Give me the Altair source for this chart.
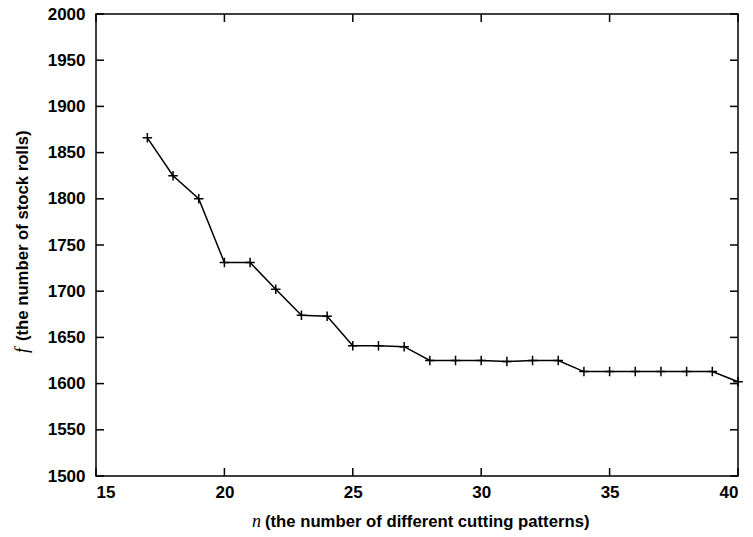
import altair as alt
import pandas as pd

# ---- data ----
n_patterns = [17, 18, 19, 20, 21, 22, 23, 24, 25, 26, 27, 28,
              29, 30, 31, 32, 33, 34, 35, 36, 37, 38, 39, 40]
stock_rolls = [1866, 1825, 1800, 1731, 1731, 1702, 1674, 1673, 1641, 1641, 1640, 1625,
               1625, 1625, 1624, 1625, 1625, 1613, 1613, 1613, 1613, 1613, 1613, 1602]
x_ticks = [15, 20, 25, 30, 35, 40]
y_ticks = [1500, 1550, 1600, 1650, 1700, 1750, 1800, 1850, 1900, 1950, 2000]
x_title_var = ["n"]
x_title_rest = ["(the number of different cutting patterns)"]
y_title_var = ["f"]
y_title_rest = ["(the number of stock rolls)"]

W, H = 642, 462
FONT = "Liberation Sans"

df = pd.DataFrame({"n": n_patterns, "f": stock_rolls})
xt = pd.DataFrame({"v": x_ticks})
yt = pd.DataFrame({"v": y_ticks})

xs = alt.Scale(domain=[15, 40], nice=False, zero=False)
ys = alt.Scale(domain=[1500, 2000], nice=False, zero=False)

x_axis = alt.Axis(values=x_ticks, title=None, tickSize=0, domain=False, grid=False,
                  format="d", labelFont=FONT, labelFontSize=17, labelFontWeight="bold",
                  labelColor="black", labelPadding=8)
y_axis = alt.Axis(values=y_ticks, title=None, tickSize=0, domain=False, grid=False,
                  format="d", labelFont=FONT, labelFontSize=17, labelFontWeight="bold",
                  labelColor="black", labelPadding=11)

line = alt.Chart(df).mark_line(color="black", strokeWidth=1.5).encode(
    x=alt.X("n:Q", scale=xs, axis=x_axis),
    y=alt.Y("f:Q", scale=ys, axis=y_axis),
)
points = alt.Chart(df).mark_point(
    shape="M-1,0L1,0M0,-1L0,1", size=90, filled=False, color="black",
    strokeWidth=1.5, opacity=1
).encode(
    x=alt.X("n:Q", scale=xs, axis=x_axis),
    y=alt.Y("f:Q", scale=ys, axis=y_axis),
)

TL = 8
left_ticks = alt.Chart(yt).mark_rule(color="black", strokeWidth=1.5).encode(
    y=alt.Y("v:Q", scale=ys, axis=y_axis), x=alt.value(0), x2=alt.value(TL))
right_ticks = alt.Chart(yt).mark_rule(color="black", strokeWidth=1.5).encode(
    y=alt.Y("v:Q", scale=ys, axis=y_axis), x=alt.value(W - TL), x2=alt.value(W))
bottom_ticks = alt.Chart(xt).mark_rule(color="black", strokeWidth=1.5).encode(
    x=alt.X("v:Q", scale=xs, axis=x_axis), y=alt.value(H), y2=alt.value(H - TL))
top_ticks = alt.Chart(xt).mark_rule(color="black", strokeWidth=1.5).encode(
    x=alt.X("v:Q", scale=xs, axis=x_axis), y=alt.value(0), y2=alt.value(TL))

xv = alt.Chart(pd.DataFrame({"t": x_title_var})).mark_text(
    font="Liberation Serif", fontStyle="italic", fontSize=18, align="left",
    baseline="alphabetic", color="black"
).encode(x=alt.value(156), y=alt.value(513), text="t:N")
xr = alt.Chart(pd.DataFrame({"t": x_title_rest})).mark_text(
    font=FONT, fontWeight="bold", fontSize=16.7, align="left",
    baseline="alphabetic", color="black"
).encode(x=alt.value(169), y=alt.value(513), text="t:N")

yv = alt.Chart(pd.DataFrame({"t": y_title_var})).mark_text(
    font="Liberation Serif", fontStyle="italic", fontSize=18, align="left",
    baseline="middle", angle=270, color="black"
).encode(x=alt.value(-73), y=alt.value(339), text="t:N")
yr = alt.Chart(pd.DataFrame({"t": y_title_rest})).mark_text(
    font=FONT, fontWeight="bold", fontSize=16.7, align="left",
    baseline="middle", angle=270, color="black"
).encode(x=alt.value(-73), y=alt.value(327), text="t:N")

chart = alt.layer(
    line, points, left_ticks, right_ticks, bottom_ticks, top_ticks, xv, xr, yv, yr
).properties(
    width=W, height=H,
    padding={"left": 96, "top": 14, "right": 15, "bottom": 61},
    autosize=alt.AutoSizeParams(type="none"),
    background="white",
).configure_view(stroke="black", strokeWidth=1.5)

chart.save("out.html", embed_options={"renderer": "svg", "actions": False})
